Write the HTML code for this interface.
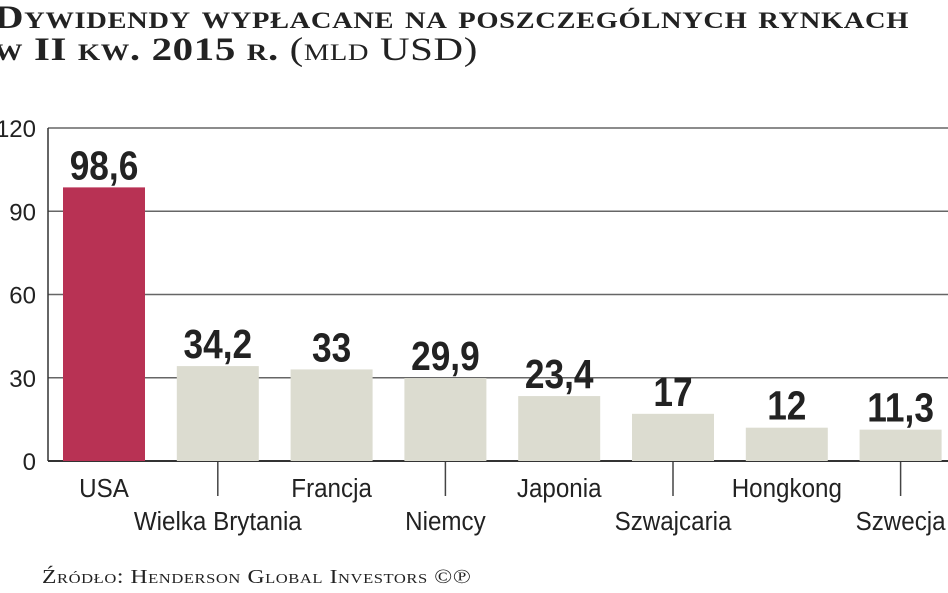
<!DOCTYPE html>
<html><head><meta charset="utf-8"><style>
body{margin:0;width:948px;height:593px;background:#fff;overflow:hidden;position:relative}
.t{position:absolute;font-family:"Liberation Serif",serif;font-weight:bold;font-variant:small-caps;color:#222;white-space:nowrap;transform-origin:0 0}
</style></head><body>
<div class="t" style="left:-6px;top:2px;font-size:33px;line-height:32px;transform:scaleX(1.24);letter-spacing:0.5px">Dywidendy wypłacane na poszczególnych rynkach<br>w II kw. 2015 r. <span style="font-weight:normal">(mld USD)</span></div>
<div class="t" style="left:42px;top:566px;font-size:20px;font-weight:normal;letter-spacing:0.5px;transform:scaleX(1.18)">Źródło: Henderson Global Investors ©℗</div>
<svg id="c" width="948" height="593" style="position:absolute;left:0;top:0"></svg>
<script>
const categories=["USA","Wielka Brytania","Francja","Niemcy","Japonia","Szwajcaria","Hongkong","Szwecja"];
const values=[98.6,34.2,33,29.9,23.4,17,12,11.3];
const valueLabels=["98,6","34,2","33","29,9","23,4","17","12","11,3"];
const ticks=[0,30,60,90,120];
const svg=document.getElementById('c');const NS="http://www.w3.org/2000/svg";
const y=v=>461-v*333/120;const x0=63,step=113.8,bw=82;
function mk(t,a,p){const e=document.createElementNS(NS,t);for(const k in a)e.setAttribute(k,a[k]);(p||svg).appendChild(e);return e;}
const F='"Liberation Sans Narrow","Liberation Sans",sans-serif';
ticks.forEach(t=>{
 const l=mk('line',{x1:48,x2:948,y1:y(t),y2:y(t),stroke:t==0?'#333':'#666','stroke-width':t==0?2:1.5});
 
 const tx=mk('text',{x:36,y:y(t)+9,'text-anchor':'end','font-size':24,'font-family':F,fill:'#222'});tx.textContent=t;
 
});
const ax=mk('line',{x1:48,x2:48,y1:y(120),y2:461,stroke:'#333','stroke-width':1.5});

values.forEach((v,i)=>{
 const bx=x0+i*step,cx=bx+bw/2;
 const r=mk('rect',{x:bx,y:y(v),width:bw,height:461-y(v),fill:i==0?'#b83254':'#dcdcd0'});
 
 const vl=mk('text',{x:0,y:0,'text-anchor':'middle','font-size':41,'font-weight':'bold','font-family':F,fill:'#222',transform:`translate(${cx},${y(v)-8}) scale(0.86,1)`});vl.textContent=valueLabels[i];
 
 const low=i%2==1;
 if(low){const s=mk('line',{x1:cx,x2:cx,y1:462,y2:496,stroke:'#444','stroke-width':1.5});
  }
 const cl=mk('text',{x:0,y:0,'text-anchor':'middle','font-size':26,'font-family':F,fill:'#222',transform:`translate(${cx},${low?530:497}) scale(0.93,1)`});cl.textContent=categories[i];
 
});
</script>
</body></html>
